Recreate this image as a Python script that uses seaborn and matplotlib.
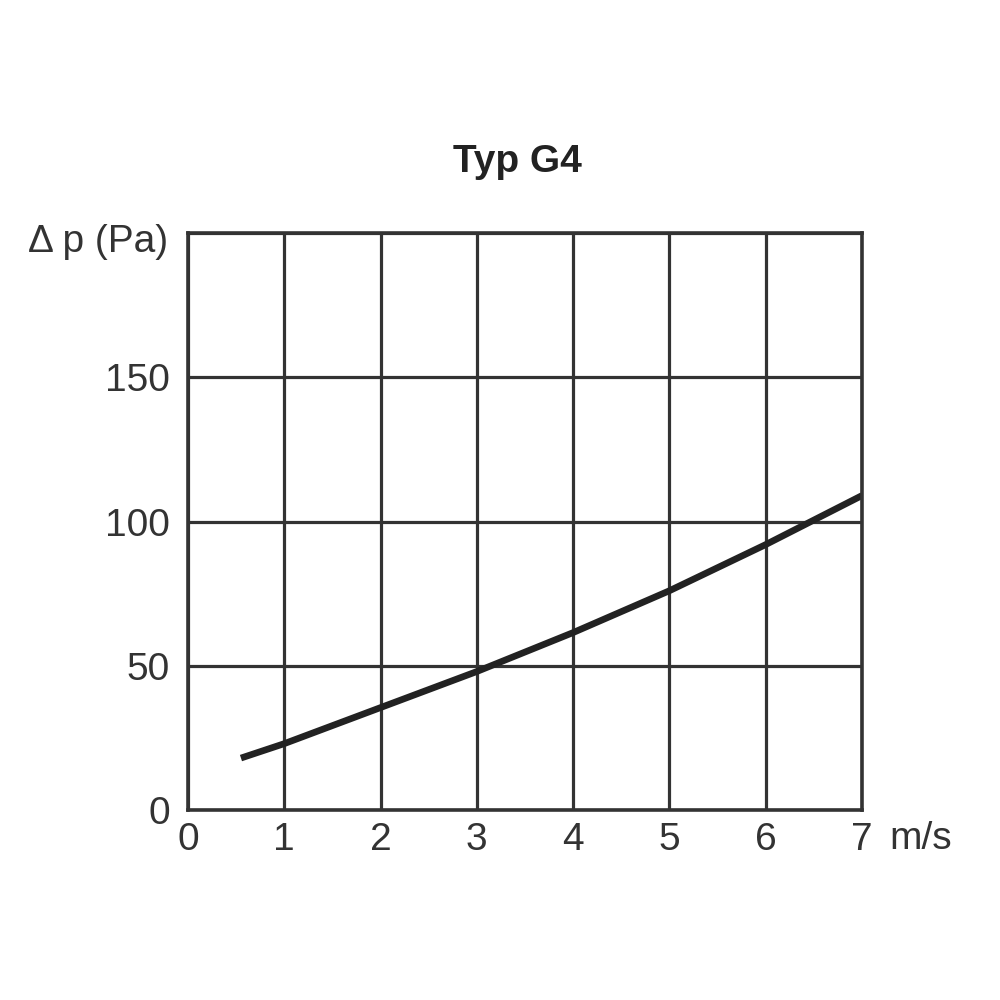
import matplotlib
matplotlib.use("Agg")
import matplotlib.pyplot as plt
import seaborn as sns
import pandas as pd

# Data
velocity = [0.55, 1.0, 2.0, 3.0, 4.0, 5.0, 6.0, 7.0]
pressure_drop = [18, 23, 35.5, 48, 61.5, 76, 92, 109]
x_ticks = [0, 1, 2, 3, 4, 5, 6, 7]
y_ticks = [0, 50, 100, 150]
title = "Typ G4"
y_label = "Δ p (Pa)"
x_unit = "m/s"

df = pd.DataFrame({"v": velocity, "dp": pressure_drop})

sns.set_theme(style="white")
plt.rcParams["font.family"] = ["Liberation Sans", "DejaVu Sans"]

fig = plt.figure(figsize=(10, 10), dpi=100)
ax = fig.add_axes([0.188, 0.19, 0.674, 0.577])

sns.lineplot(data=df, x="v", y="dp", ax=ax, color="#222222", linewidth=4.8,
             solid_capstyle="butt")

ax.set_xlim(0, 7)
ax.set_ylim(0, 200)
ax.set_xticks(x_ticks)
ax.set_yticks(y_ticks + [200])
ax.set_yticklabels([str(t) for t in y_ticks] + [""])
ax.grid(True, color="#333333", linewidth=2.3)
ax.set_axisbelow(True)
for s in ax.spines.values():
    s.set_visible(True)
    s.set_color("#333333")
    s.set_linewidth(2.6)

ax.tick_params(axis="both", length=0, labelsize=28, colors="#333333")
ax.tick_params(axis="y", pad=13)
ax.tick_params(axis="x", pad=9)
ax.set_xlabel("")
ax.set_ylabel("")

ax.text(-0.03, 0.985, y_label, transform=ax.transAxes, ha="right", va="center",
        fontsize=28, color="#333333")
ax.text(1.04, -0.05, x_unit, transform=ax.transAxes, ha="left", va="center",
        fontsize=28, color="#333333")
fig.text(0.517, 0.838, title, ha="center", va="center", fontsize=28,
         fontweight="bold", color="#222222")

fig.savefig("out.png", dpi=100, facecolor="white")
